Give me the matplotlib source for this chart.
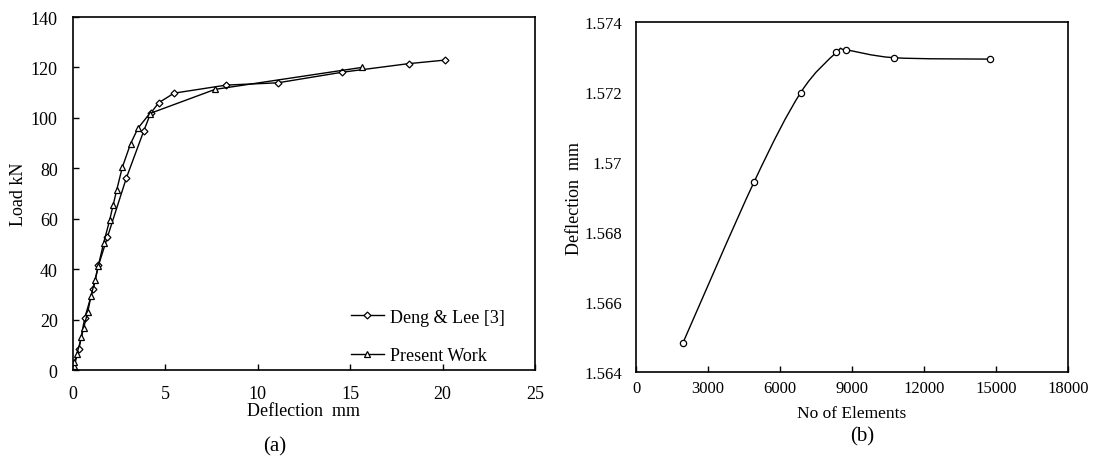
import numpy as np
import matplotlib
matplotlib.use("Agg")
import matplotlib.pyplot as plt
from matplotlib.path import Path
from matplotlib.patches import PathPatch

plt.rcParams['font.family'] = ['Liberation Serif', 'DejaVu Serif']
plt.rcParams['font.size'] = 12

# (a) load-deflection
deng_x = [0.02, 0.33, 0.63, 1.10, 1.38, 1.86, 2.89, 3.83, 4.20, 4.64, 5.47,
          8.30, 11.08, 14.57, 18.16, 20.11]
deng_y = [0.5, 8.5, 20.5, 32.3, 41.5, 52.6, 76.2, 94.8, 101.8, 106.0, 109.8,
          113.0, 113.9, 118.1, 121.5, 122.9]
pw_x = [0.03, 0.08, 0.21, 0.46, 0.58, 0.80, 0.97, 1.19, 1.37, 1.66, 1.99,
        2.17, 2.37, 2.67, 3.12, 3.52, 4.15, 7.69, 15.63]
pw_y = [1.5, 3.0, 6.3, 13.1, 16.8, 23.0, 29.2, 35.6, 41.3, 50.4, 59.6,
        65.3, 71.5, 80.4, 89.8, 95.9, 101.7, 111.3, 120.0]

# (b) mesh convergence
elem_n = [1960, 4920, 6860, 8350, 8760, 10760, 14750]
defl = [1.56484, 1.56943, 1.57198, 1.57313, 1.57320, 1.57298, 1.57294]


def smooth_path(xs, ys):
    # cubic bezier through the points (Catmull-Rom style, like a spreadsheet "smooth line")
    p = np.column_stack([xs, ys]).astype(float)
    ext = np.vstack([p[0], p, p[-1]])
    verts = [p[0]]
    codes = [Path.MOVETO]
    for i in range(len(p) - 1):
        p0, p1, p2, p3 = ext[i], ext[i + 1], ext[i + 2], ext[i + 3]
        verts += [p1 + (p2 - p0) / 6, p2 - (p3 - p1) / 6, p2]
        codes += [Path.CURVE4] * 3
    return Path(verts, codes)


fig = plt.figure(figsize=(11.09, 4.64), dpi=100)
ax1 = fig.add_axes([0.0658, 0.2004, 0.4166, 0.7608])
ax2 = fig.add_axes([0.5735, 0.1961, 0.3895, 0.7543])

ax1.plot(deng_x, deng_y, color='black', lw=1.0, marker='D', ms=3.5,
         mfc='white', mec='black', mew=0.9, label='Deng & Lee [3]')
ax1.plot(pw_x, pw_y, color='black', lw=1.0, marker='^', ms=4.2,
         mfc='white', mec='black', mew=0.9, label='Present Work')
ax1.set_xlim(0, 25)
ax1.set_ylim(0, 140)
ax1.set_xticks(range(0, 26, 5))
ax1.set_yticks(range(0, 141, 20))
ax1.set_xlabel('Deflection  mm', fontsize=13, labelpad=0)
ax1.set_ylabel('Load kN', fontsize=13, labelpad=3)
ax1.tick_params(direction='in', length=4, width=1, pad=11, labelsize=13)
leg = ax1.legend(loc='lower right', frameon=False, fontsize=13,
                 handlelength=1.8, handletextpad=0.35, labelspacing=1.2,
                 borderaxespad=0.3, bbox_to_anchor=(0.962, -0.02))

ax2.add_patch(PathPatch(smooth_path(elem_n, defl), facecolor='none',
                        edgecolor='black', lw=1.0))
ax2.plot(elem_n, defl, linestyle='none', marker='o', ms=4.5,
         mfc='white', mec='black', mew=0.9)
ax2.set_xlim(0, 18000)
ax2.set_ylim(1.564, 1.574)
ax2.set_xticks(range(0, 18001, 3000))
ax2.set_yticks([1.564, 1.566, 1.568, 1.570, 1.572, 1.574])
ax2.set_yticklabels(['1.564', '1.566', '1.568', '1.57', '1.572', '1.574'])
ax2.set_xlabel('No of Elements', fontsize=12.5, labelpad=6)
ax2.set_ylabel('Deflection  mm', fontsize=13, labelpad=1)
ax2.tick_params(axis='x', direction='in', length=4, width=1, pad=6, labelsize=12)
ax2.tick_params(axis='y', length=0, pad=10, labelsize=12)

for ax in (ax1, ax2):
    for s in ax.spines.values():
        s.set_linewidth(1.2)

fig.text(0.248, 0.038, '(a)', ha='center', va='center', fontsize=15)
fig.text(0.777, 0.058, '(b)', ha='center', va='center', fontsize=15)

fig.savefig('out.png', dpi=100)
